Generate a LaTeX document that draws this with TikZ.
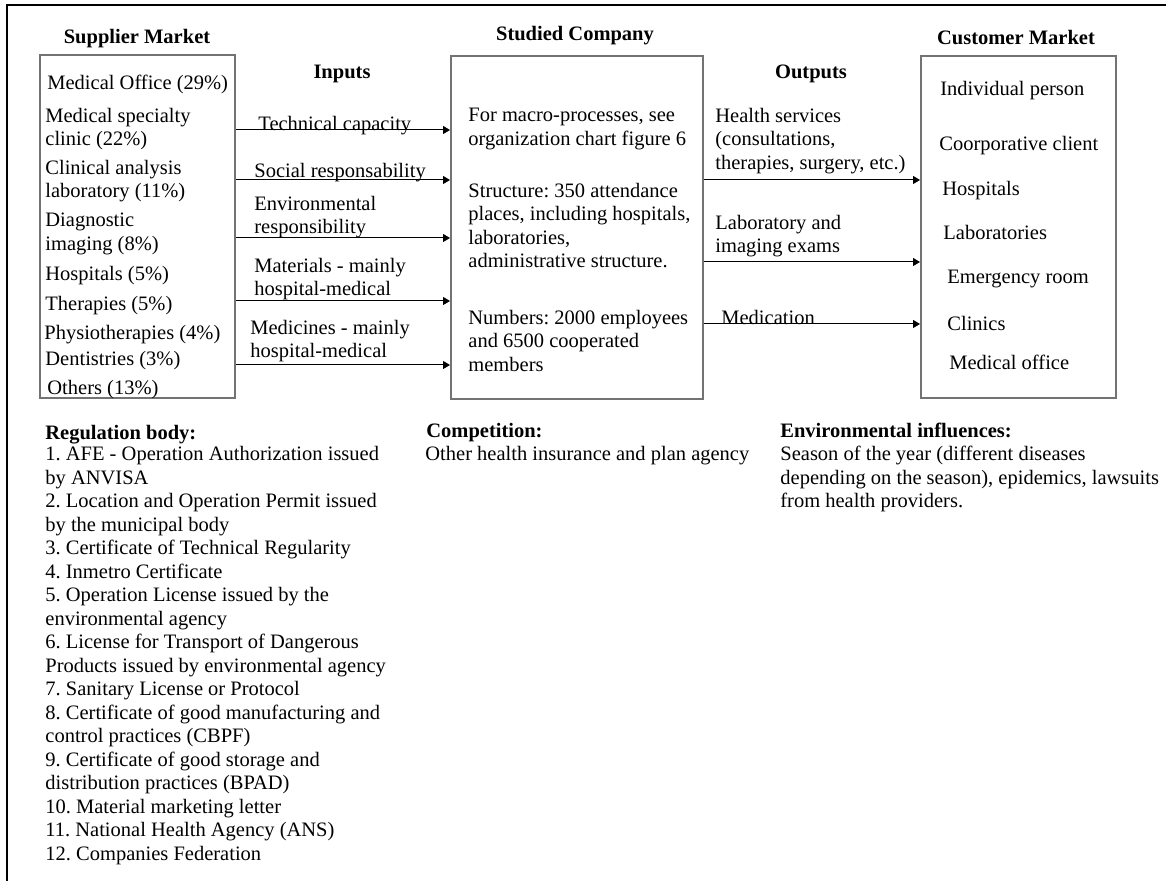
\documentclass[tikz,border=0pt]{standalone}
\usepackage{fontspec}
\setmainfont{Liberation Serif}
\usetikzlibrary{arrows.meta}

\newcommand{\txtfont}{\fontsize{10.25pt}{11.6pt}\selectfont\frenchspacing}

\begin{document}
\begin{tikzpicture}[x = 0.5pt, y = -0.5pt,
  txt/.style = {anchor = north west, inner sep = 0pt, align = left, font = \txtfont},
  title/.style = {anchor = north, inner sep = 0pt, font = \txtfont\bfseries},
  box/.style = {draw = black!55, line width = 1pt, anchor = north west, inner sep = 0pt},
  arr/.style = {-{Triangle[length = 3.5pt, width = 4pt]}, line width = 0.5pt}]
\useasboundingbox (0,0) rectangle (1166,881);
\draw [line width = 1.2pt] (7,881) -- (7,5) -- (1166,5);

% boxes
\node[box, minimum width = 97.5pt, minimum height = 171.5pt] (sup) at (39,54) {};
\node[box, minimum width = 126pt, minimum height = 171.5pt] (comp) at (450,55) {};
\node[box, minimum width = 97.5pt, minimum height = 171pt] (cust) at (920,55) {};

\node[title] (supT) at (137,29) {Supplier Market};
\node[title] (compT) at (575,26) {Studied Company};
\node[title] (custT) at (1016,30) {Customer Market};
\node[title] (inT) at (342,65) {Inputs};
\node[title] (outT) at (811,65) {Outputs};

% supplier market
\node[txt] (s1) at (47,75) {Medical Office (29\%)};
\node[txt] (s2) at (45,108) {Medical specialty\\clinic (22\%)};
\node[txt] (s3) at (45,160) {Clinical analysis\\laboratory (11\%)};
\node[txt] (s4) at (45,213) {Diagnostic\\imaging (8\%)};
\node[txt] (s5) at (45,266) {Hospitals (5\%)};
\node[txt] (s6) at (45,296) {Therapies (5\%)};
\node[txt] (s7) at (44,325) {Physiotherapies (4\%)};
\node[txt] (s8) at (45,351) {Dentistries (3\%)};
\node[txt] (s9) at (47,380) {Others (13\%)};

% inputs
\node[txt] (in1) at (258,116) {Technical capacity};
\node[txt] (in2) at (254,163) {Social responsability};
\node[txt] (in3) at (254,196) {Environmental\\responsibility};
\node[txt] (in4) at (254,258) {Materials - mainly\\hospital-medical};
\node[txt] (in5) at (250,320) {Medicines - mainly\\hospital-medical};
\foreach \yy in {130,180,238,301,365} {
  \coordinate (p) at (0,\yy);
  \draw [arr] (sup.east |- p) -- (comp.west |- p);
}

% studied company
\node[txt] (c1) at (468,108) {For macro-processes, see\\organization chart figure 6};
\node[txt] (c2) at (468,183) {Structure: 350 attendance\\places, including hospitals,\\laboratories,\\administrative structure.};
\node[txt] (c3) at (468,310) {Numbers: 2000 employees\\and 6500 cooperated\\members};

% outputs
\node[txt] (out1) at (715,108) {Health services\\(consultations,\\therapies, surgery, etc.)};
\node[txt] (out2) at (715,215) {Laboratory and\\imaging exams};
\node[txt] (out3) at (721,310) {Medication};
\foreach \yy in {180,262,324} {
  \coordinate (q) at (0,\yy);
  \draw [arr] (comp.east |- q) -- (cust.west |- q);
}

% customer market
\node[txt] (k1) at (940,81) {Individual person};
\node[txt] (k2) at (939,136) {Coorporative client};
\node[txt] (k3) at (942,181) {Hospitals};
\node[txt] (k4) at (943,225) {Laboratories};
\node[txt] (k5) at (947,270) {Emergency room};
\node[txt] (k6) at (947,316) {Clinics};
\node[txt] (k7) at (949,355) {Medical office};

% bottom notes
\node[txt, font = \txtfont\bfseries] (regT) at (45,425) {Regulation body:};
\node[txt, font = \fontsize{10.25pt}{11.75pt}\selectfont\frenchspacing] (reg) at (45,446) {1. AFE - Operation Authorization issued\\by ANVISA\\2. Location and Operation Permit issued\\by the municipal body\\3. Certificate of Technical Regularity\\4. Inmetro Certificate\\5. Operation License issued by the\\environmental agency\\6. License for Transport of Dangerous\\Products issued by environmental agency\\7. Sanitary License or Protocol\\8. Certificate of good manufacturing and\\control practices (CBPF)\\9. Certificate of good storage and\\distribution practices (BPAD)\\10. Material marketing letter\\11. National Health Agency (ANS)\\12. Companies Federation};
\node[txt, font = \txtfont\bfseries] (compet) at (426,423) {Competition:};
\node[txt] (competx) at (425,446) {Other health insurance and plan agency};
\node[txt, font = \txtfont\bfseries] (envT) at (780,423) {Environmental influences:};
\node[txt] (env) at (780,446) {Season of the year (different diseases\\depending on the season), epidemics, lawsuits\\from health providers.};
\end{tikzpicture}
\end{document}
